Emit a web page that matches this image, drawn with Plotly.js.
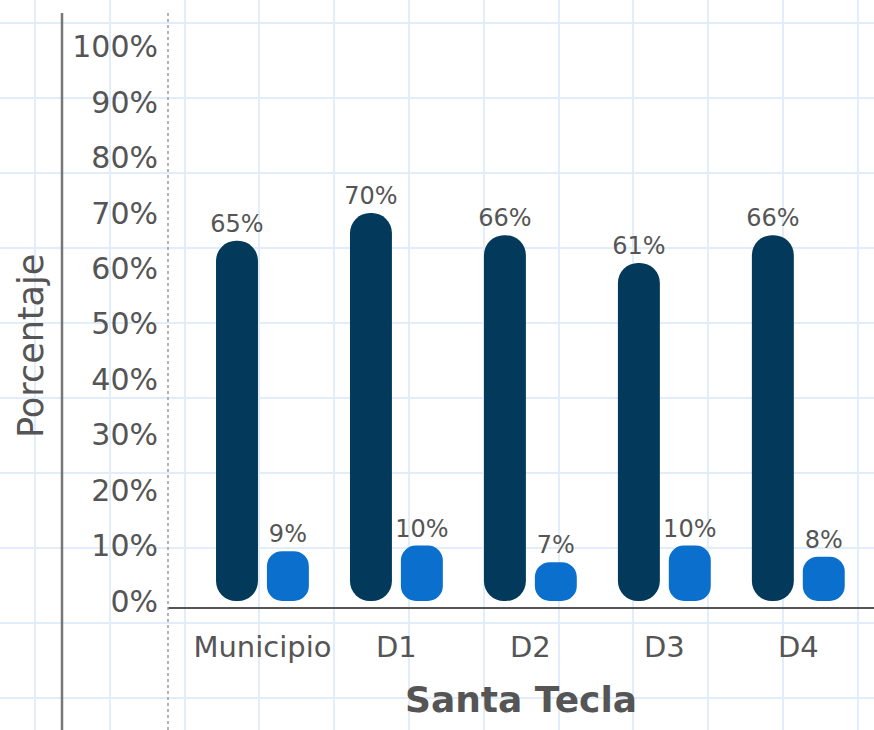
<!DOCTYPE html>
<html>
<head>
<meta charset="utf-8">
<script src="https://cdn.plot.ly/plotly-3.0.1.min.js"></script>
<style>html,body{margin:0;padding:0;background:#fff;}#chart{width:874px;height:730px;}</style>
</head>
<body>
<div id="chart"></div>
<script>
// ---- data ----
const categories = ['Municipio', 'D1', 'D2', 'D3', 'D4'];
const serieOscura = [65, 70, 66, 61, 66];
const serieClara = [9, 10, 7, 10, 8];
const yTickValues = [0, 10, 20, 30, 40, 50, 60, 70, 80, 90, 100];

const FONT = 'DejaVu Sans, sans-serif';
const GRAY = '#555555';
const DARK = '#03395a';
const LIGHT = '#0b6fcd';

// bars with an explicit base get both ends rounded
function roundedBar(vals, color, group, radius) {
  return {
    type: 'bar', x: categories, y: vals, base: vals.map(() => 0),
    xaxis: 'x2', yaxis: 'y2', offsetgroup: group,
    marker: { color: color, cornerradius: radius, line: { width: 0 } },
    text: vals.map(v => v + '%'), textposition: 'outside', constraintext: 'none',
    textfont: { family: FONT, size: 24, color: GRAY },
    cliponaxis: false, showlegend: false, hoverinfo: 'skip'
  };
}

// background graph-paper grid subplot (drawn first, underneath)
const gridTrace = {
  type: 'scatter', x: [0], y: [0], mode: 'markers',
  marker: { opacity: 0 }, xaxis: 'x', yaxis: 'y',
  showlegend: false, hoverinfo: 'skip'
};

const traces = [
  gridTrace,
  roundedBar(serieOscura, DARK, 'a', 21),
  roundedBar(serieClara, LIGHT, 'b', 15)
];

const W = 874, H = 730;
const plotLeft = 168, plotBottom = 607, plotTop = 13;

const layout = {
  width: W, height: H,
  margin: { l: 0, r: 0, t: 0, b: 0, pad: 0 },
  paper_bgcolor: '#ffffff',
  plot_bgcolor: 'rgba(0,0,0,0)',
  barmode: 'group',
  bargap: 0.24,
  bargroupgap: 0.176,
  font: { family: FONT, color: GRAY },
  xaxis: {
    domain: [0, 1], range: [0, W], fixedrange: true,
    showgrid: true, gridcolor: '#e2edfc', gridwidth: 2,
    tick0: 35, dtick: 74.8, showticklabels: false, ticks: '',
    zeroline: false, showline: false
  },
  yaxis: {
    domain: [0, 1], range: [H, 0], fixedrange: true,
    showgrid: true, gridcolor: '#e2edfc', gridwidth: 2,
    tick0: 23, dtick: 75, showticklabels: false, ticks: '',
    zeroline: false, showline: false
  },
  xaxis2: {
    domain: [plotLeft / W, 1], anchor: 'y2',
    range: [-0.705, 4.565], fixedrange: true,
    showgrid: false, zeroline: false,
    showline: true, linecolor: '#555555', linewidth: 2,
    ticks: '', ticklabelstandoff: 13,
    tickfont: { family: FONT, size: 29, color: GRAY },
    title: { text: '<b>Santa Tecla</b>', font: { family: FONT, size: 36, color: GRAY }, standoff: 24 },
    automargin: false
  },
  yaxis2: {
    domain: [(H - plotBottom) / H, (H - plotTop) / H], anchor: 'x2',
    range: [-1.08, 106.1], fixedrange: true,
    showgrid: false, zeroline: false, showline: false,
    tickvals: yTickValues, ticktext: yTickValues.map(v => v + '%'),
    ticks: '', ticklabelstandoff: 9,
    tickfont: { family: FONT, size: 30, color: GRAY },
    automargin: false
  },
  annotations: [
    { text: 'Porcentaje', xref: 'paper', yref: 'paper', x: 31 / W, y: (H - 346) / H,
      xanchor: 'center', yanchor: 'middle', textangle: -90, showarrow: false,
      font: { family: FONT, size: 35, color: GRAY } }
  ],
  shapes: [
    { type: 'line', xref: 'paper', yref: 'paper', x0: 62 / W, x1: 62 / W, y0: 0, y1: (H - plotTop) / H,
      line: { color: '#777777', width: 2.5 }, layer: 'above' },
    { type: 'line', xref: 'paper', yref: 'paper', x0: plotLeft / W, x1: plotLeft / W, y0: 0, y1: (H - plotTop) / H,
      line: { color: '#9a9a9a', width: 1.5, dash: 'dot' }, layer: 'above' }
  ]
};

Plotly.newPlot('chart', traces, layout, { staticPlot: true, displayModeBar: false });
</script>
</body>
</html>
